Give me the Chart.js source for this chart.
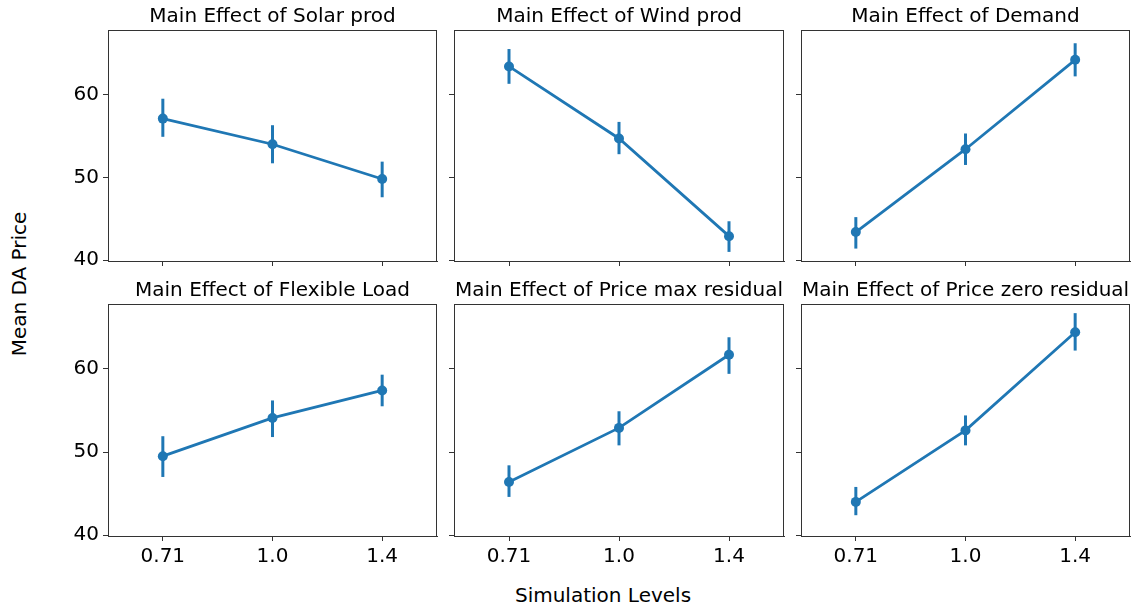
<!DOCTYPE html>
<html>
<head>
<meta charset="utf-8">
<script src="https://cdn.jsdelivr.net/npm/chart.js@4"></script>
<style>
    body { margin: 0; background: #fff; font-family: 'DejaVu Sans', sans-serif; }
    #wrap { position: relative; width: 1135px; height: 604px; overflow: hidden; }
    #wrap canvas { position: absolute; }
    .label { position: absolute; font-size: 20px; color: #000; white-space: nowrap; }
</style>
</head>
<body>
<div id="wrap">
    <div class="label" style="left:603px; top:595px; transform:translate(-50%,-50%);">Simulation Levels</div>
    <div class="label" style="left:19px; top:284px; transform:translate(-50%,-50%) rotate(-90deg);">Mean DA Price</div>
</div>
<script>
const levels = ['0.71', '1.0', '1.4'];
const yTicks = [40, 50, 60];

const titles = [
    'Main Effect of Solar prod',
    'Main Effect of Wind prod',
    'Main Effect of Demand',
    'Main Effect of Flexible Load',
    'Main Effect of Price max residual',
    'Main Effect of Price zero residual'
];

// mean and CI bounds per factor
const solarMean = [57.1, 54.0, 49.8];
const solarLo   = [54.9, 51.7, 47.6];
const solarHi   = [59.5, 56.3, 51.9];

const windMean = [63.4, 54.7, 42.9];
const windLo   = [61.3, 52.8, 41.0];
const windHi   = [65.5, 56.7, 44.7];

const demandMean = [43.4, 53.4, 64.2];
const demandLo   = [41.4, 51.5, 62.2];
const demandHi   = [45.2, 55.3, 66.2];

const flexMean = [49.5, 54.1, 57.4];
const flexLo   = [47.0, 51.8, 55.5];
const flexHi   = [51.9, 56.2, 59.3];

const pmaxMean = [46.4, 52.9, 61.7];
const pmaxLo   = [44.6, 50.8, 59.4];
const pmaxHi   = [48.4, 54.9, 63.8];

const pzeroMean = [44.0, 52.6, 64.4];
const pzeroLo   = [42.4, 50.8, 62.2];
const pzeroHi   = [45.8, 54.4, 66.7];

const series = [
    [solarMean, solarLo, solarHi],
    [windMean, windLo, windHi],
    [demandMean, demandLo, demandHi],
    [flexMean, flexLo, flexHi],
    [pmaxMean, pmaxLo, pmaxHi],
    [pzeroMean, pzeroLo, pzeroHi]
];

const blue = '#1f77b4';
const frameColor = '#333';
const font = { family: "'DejaVu Sans', sans-serif", size: 20 };

// plot-area boxes of the 6 panels
const cols = [[108, 331], [454, 332], [801, 331]];
const rows = [[30, 231], [304, 232]];

// draws the full box around each axes
const framePlugin = {
    id: 'frame',
    afterDraw(chart) {
        const a = chart.chartArea;
        const ctx = chart.ctx;
        ctx.save();
        ctx.strokeStyle = frameColor;
        ctx.lineWidth = 1;
        ctx.strokeRect(Math.round(a.left) + 0.5, Math.round(a.top) + 0.5,
            Math.round(a.right - a.left) - 1, Math.round(a.bottom - a.top));
        ctx.restore();
    }
};

const wrap = document.getElementById('wrap');

series.forEach((s, i) => {
    const r = Math.floor(i / 3), c = i % 3;
    const [left, w] = cols[c];
    const [top, h] = rows[r];

    const canvas = document.createElement('canvas');
    canvas.width = w + 63;
    canvas.height = h + 70;
    canvas.style.left = (left - 60) + 'px';
    canvas.style.top = (top - 30) + 'px';
    wrap.appendChild(canvas);

    const [mean, lo, hi] = s;
    const datasets = [{
        data: mean.map((v, k) => ({ x: k, y: v })),
        borderColor: blue,
        backgroundColor: blue,
        borderWidth: 2.8,
        pointRadius: 5,
        pointBorderWidth: 0,
        order: 0
    }];
    // one vertical segment per level for the error bar
    mean.forEach((v, k) => {
        datasets.push({
            data: [{ x: k, y: lo[k] }, { x: k, y: hi[k] }],
            borderColor: blue,
            borderWidth: 3,
            pointRadius: 0,
            borderCapStyle: 'butt',
            order: 1
        });
    });

    new Chart(canvas, {
        type: 'line',
        data: { datasets },
        options: {
            responsive: false,
            animation: false,
            devicePixelRatio: 1,
            layout: { padding: { left: 0, right: 1, top: 0, bottom: 0 } },
            plugins: {
                legend: { display: false },
                tooltip: { enabled: false },
                title: {
                    display: true,
                    fullSize: false,
                    text: titles[i],
                    color: '#000',
                    font: { family: font.family, size: 20, weight: 'normal', lineHeight: 1.2 },
                    padding: { top: 5, bottom: 1 }
                }
            },
            scales: {
                x: {
                    type: 'linear',
                    min: -0.5,
                    max: 2.5,
                    afterBuildTicks: axis => { axis.ticks = levels.map((l, k) => ({ value: k })); },
                    afterFit: axis => { axis.height = 40; axis.paddingLeft = 0; axis.paddingRight = 0; },
                    grid: { display: true, drawOnChartArea: false, drawTicks: true, tickLength: 5, color: frameColor },
                    border: { display: true, color: frameColor },
                    ticks: {
                        display: r === 1,
                        color: '#000',
                        font: font,
                        padding: 4,
                        maxRotation: 0,
                        callback: v => levels[v]
                    }
                },
                y: {
                    min: 39.9,
                    max: 67.8,
                    afterBuildTicks: axis => { axis.ticks = yTicks.map(v => ({ value: v })); },
                    afterFit: axis => { axis.width = 60; },
                    grid: { display: true, drawOnChartArea: false, drawTicks: true, tickLength: 5, color: frameColor },
                    border: { display: true, color: frameColor },
                    ticks: {
                        display: c === 0,
                        color: '#000',
                        font: font,
                        padding: 4
                    }
                }
            }
        },
        plugins: [framePlugin]
    });
});
</script>
</body>
</html>
